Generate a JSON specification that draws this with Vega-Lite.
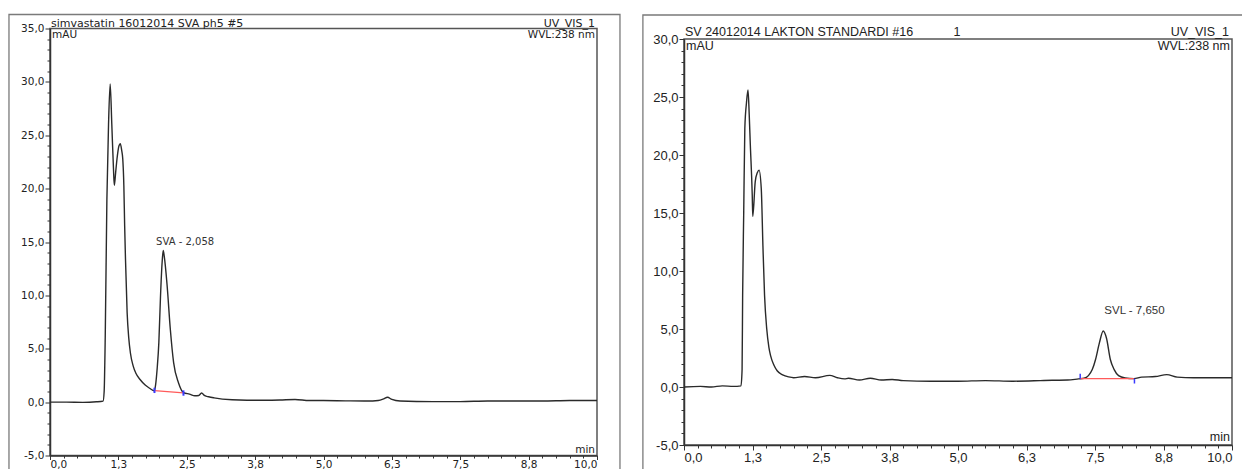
{
  "$schema": "https://vega.github.io/schema/vega-lite/v6.json",
  "background": "white",
  "padding": {"left": 7, "top": 12.5, "right": 0, "bottom": 0},
  "autosize": {"type": "pad"},
  "spacing": 87,
  "bounds": "flush",
  "center": true,
  "config": {
    "view": {"stroke": "#555555", "strokeWidth": 1.5},
    "axis": {"grid": false, "domainColor": "#333333", "tickColor": "#333333", "labelColor": "#222222", "title": null}
  },
  "datasets": {
    "traceL": [
      {"t": 0.0, "v": 0.0}, {"t": 0.3, "v": 0.0}, {"t": 0.6, "v": -0.02}, {"t": 0.85, "v": 0.03}, {"t": 0.97, "v": 0.1},
      {"t": 0.99, "v": 1.0}, {"t": 1.01, "v": 6.2}, {"t": 1.04, "v": 19.0}, {"t": 1.07, "v": 26.0}, {"t": 1.1, "v": 29.8},
      {"t": 1.13, "v": 26.0}, {"t": 1.16, "v": 21.9}, {"t": 1.176, "v": 20.3}, {"t": 1.2, "v": 21.5}, {"t": 1.225, "v": 22.8},
      {"t": 1.26, "v": 24.0}, {"t": 1.285, "v": 24.2}, {"t": 1.31, "v": 23.6}, {"t": 1.33, "v": 22.8}, {"t": 1.35, "v": 20.3},
      {"t": 1.365, "v": 16.5}, {"t": 1.38, "v": 13.4}, {"t": 1.41, "v": 8.4}, {"t": 1.44, "v": 6.0}, {"t": 1.47, "v": 4.6},
      {"t": 1.52, "v": 3.4}, {"t": 1.57, "v": 2.7}, {"t": 1.65, "v": 2.1}, {"t": 1.74, "v": 1.6}, {"t": 1.82, "v": 1.3},
      {"t": 1.91, "v": 1.07}, {"t": 1.93, "v": 1.6}, {"t": 1.96, "v": 3.2}, {"t": 1.99, "v": 5.6}, {"t": 2.02, "v": 9.9},
      {"t": 2.05, "v": 13.1}, {"t": 2.07, "v": 14.2}, {"t": 2.09, "v": 13.6}, {"t": 2.14, "v": 11.0}, {"t": 2.2, "v": 6.8},
      {"t": 2.26, "v": 3.7}, {"t": 2.35, "v": 1.8}, {"t": 2.44, "v": 0.9}, {"t": 2.55, "v": 0.75}, {"t": 2.65, "v": 0.6},
      {"t": 2.72, "v": 0.62}, {"t": 2.77, "v": 0.85}, {"t": 2.83, "v": 0.6}, {"t": 2.9, "v": 0.5}, {"t": 3.0, "v": 0.4},
      {"t": 3.33, "v": 0.22}, {"t": 3.6, "v": 0.18}, {"t": 3.94, "v": 0.18}, {"t": 4.2, "v": 0.2}, {"t": 4.48, "v": 0.25},
      {"t": 4.74, "v": 0.15}, {"t": 5.0, "v": 0.15}, {"t": 5.4, "v": 0.12}, {"t": 5.8, "v": 0.1}, {"t": 6.0, "v": 0.15},
      {"t": 6.1, "v": 0.3}, {"t": 6.17, "v": 0.45}, {"t": 6.25, "v": 0.25}, {"t": 6.4, "v": 0.1}, {"t": 7.0, "v": 0.05},
      {"t": 7.5, "v": 0.05}, {"t": 8.0, "v": 0.1}, {"t": 8.5, "v": 0.1}, {"t": 9.0, "v": 0.1}, {"t": 9.5, "v": 0.15},
      {"t": 10.0, "v": 0.15}
    ],
    "traceR": [
      {"t": 0.0, "v": 0.0}, {"t": 0.3, "v": 0.05}, {"t": 0.5, "v": 0.0}, {"t": 0.7, "v": 0.1}, {"t": 0.9, "v": 0.05},
      {"t": 1.04, "v": 0.1}, {"t": 1.06, "v": 1.5}, {"t": 1.07, "v": 7.9}, {"t": 1.09, "v": 15.1}, {"t": 1.11, "v": 22.3},
      {"t": 1.14, "v": 24.5}, {"t": 1.168, "v": 25.6}, {"t": 1.19, "v": 23.5}, {"t": 1.21, "v": 20.9}, {"t": 1.245, "v": 16.6},
      {"t": 1.255, "v": 14.7}, {"t": 1.3, "v": 17.7}, {"t": 1.34, "v": 18.5}, {"t": 1.37, "v": 18.7}, {"t": 1.41, "v": 17.1},
      {"t": 1.44, "v": 12.2}, {"t": 1.47, "v": 7.9}, {"t": 1.51, "v": 5.0}, {"t": 1.55, "v": 3.4}, {"t": 1.58, "v": 2.7},
      {"t": 1.64, "v": 1.9}, {"t": 1.7, "v": 1.4}, {"t": 1.8, "v": 1.05}, {"t": 1.91, "v": 0.87}, {"t": 2.0, "v": 0.8},
      {"t": 2.2, "v": 0.9}, {"t": 2.4, "v": 0.8}, {"t": 2.66, "v": 1.0}, {"t": 2.8, "v": 0.8}, {"t": 2.93, "v": 0.7},
      {"t": 3.0, "v": 0.75}, {"t": 3.2, "v": 0.6}, {"t": 3.4, "v": 0.75}, {"t": 3.6, "v": 0.6}, {"t": 3.8, "v": 0.65},
      {"t": 4.0, "v": 0.55}, {"t": 4.5, "v": 0.5}, {"t": 5.0, "v": 0.5}, {"t": 5.5, "v": 0.55}, {"t": 6.0, "v": 0.5},
      {"t": 6.5, "v": 0.55}, {"t": 6.72, "v": 0.58}, {"t": 7.0, "v": 0.6}, {"t": 7.2, "v": 0.7}, {"t": 7.3, "v": 0.75},
      {"t": 7.38, "v": 0.98}, {"t": 7.45, "v": 1.5}, {"t": 7.51, "v": 2.37}, {"t": 7.58, "v": 3.8}, {"t": 7.65, "v": 4.83},
      {"t": 7.71, "v": 4.2}, {"t": 7.78, "v": 2.37}, {"t": 7.85, "v": 1.5}, {"t": 7.93, "v": 0.98}, {"t": 8.05, "v": 0.78},
      {"t": 8.21, "v": 0.72}, {"t": 8.35, "v": 0.85}, {"t": 8.6, "v": 0.9}, {"t": 8.81, "v": 1.07}, {"t": 9.0, "v": 0.85},
      {"t": 9.3, "v": 0.8}, {"t": 9.6, "v": 0.8}, {"t": 10.0, "v": 0.8}
    ],
    "baseL": [{"t1": 1.91, "v1": 1.07, "t2": 2.44, "v2": 0.87}],
    "baseR": [{"t1": 7.23, "v1": 0.72, "t2": 8.21, "v2": 0.72}],
    "marksL": [{"t": 1.91, "a": 0.85, "b": 1.35}, {"t": 2.44, "a": 0.6, "b": 1.1}],
    "marksR": [{"t": 7.23, "a": 0.72, "b": 1.15}, {"t": 8.22, "a": 0.72, "b": 0.3}],
    "one": [{}]
  },
  "hconcat": [
    {
      "width": 547,
      "height": 427,
      "resolve": {"axis": {"x": "independent", "y": "independent"}},
      "layer": [
        {
          "data": {"name": "one"},
          "mark": {"type": "rect", "fill": null, "fillOpacity": 0, "stroke": "#7a7a7a", "strokeWidth": 1.3},
          "encoding": {
            "x": {"datum": -0.75, "type": "quantitative", "scale": {"domain": [0, 10], "nice": false, "zero": false}, "axis": null},
            "x2": {"datum": 10.42},
            "y": {"datum": 36.31, "type": "quantitative", "scale": {"domain": [-5, 35], "nice": false, "zero": false}, "axis": null},
            "y2": {"datum": -7.5}
          }
        },
        {
          "data": {"name": "traceL"},
          "mark": {"type": "point", "opacity": 0},
          "encoding": {
            "x": {"field": "t", "type": "quantitative", "scale": {"domain": [0, 10], "nice": false, "zero": false},
              "axis": {"orient": "bottom", "values": [0.25,0.5,0.75,1,1.5,1.75,2,2.25,2.75,3,3.25,3.5,4,4.25,4.5,4.75,5.25,5.5,5.75,6,6.5,6.75,7,7.25,7.75,8,8.25,8.5,9,9.25,9.5,9.75], "labels": false, "domain": false, "tickSize": 2.5, "tickWidth": 1}},
            "y": {"field": "v", "type": "quantitative", "scale": {"domain": [-5, 35], "nice": false, "zero": false},
              "axis": {"orient": "left", "values": [-4,-3,-2,-1,1,2,3,4,6,7,8,9,11,12,13,14,16,17,18,19,21,22,23,24,26,27,28,29,31,32,33,34], "labels": false, "domain": false, "tickSize": 3, "tickWidth": 1}}
          }
        },
        {
          "data": {"name": "traceL"},
          "mark": {"type": "line", "color": "#2a2a2a", "strokeWidth": 1.4, "interpolate": "monotone"},
          "encoding": {
            "x": {"field": "t", "type": "quantitative", "scale": {"domain": [0, 10], "nice": false, "zero": false},
              "axis": {"orient": "bottom", "values": [0,1.25,2.5,3.75,5,6.25,7.5,8.75,10], "labelExpr": "replace(format(datum.value, '.1f'), '.', ',')", "labelFont": "DejaVu Sans", "labelFontSize": 10.5, "tickSize": 4, "labelPadding": 0, "domainWidth": 1.5}},
            "y": {"field": "v", "type": "quantitative", "scale": {"domain": [-5, 35], "nice": false, "zero": false},
              "axis": {"orient": "left", "values": [-5,0,5,10,15,20,25,30,35], "labelExpr": "datum.value + ',0'", "labelFont": "DejaVu Sans", "labelFontSize": 10.5, "tickSize": 5, "labelPadding": 1, "domainWidth": 1.5}}
          }
        },
        {
          "data": {"name": "baseL"},
          "mark": {"type": "rule", "color": "#ff5a5a", "strokeWidth": 1.3},
          "encoding": {
            "x": {"field": "t1", "type": "quantitative", "scale": {"domain": [0, 10], "nice": false, "zero": false}, "axis": null},
            "x2": {"field": "t2"},
            "y": {"field": "v1", "type": "quantitative", "scale": {"domain": [-5, 35], "nice": false, "zero": false}, "axis": null},
            "y2": {"field": "v2"}
          }
        },
        {
          "data": {"name": "marksL"},
          "mark": {"type": "rule", "color": "#3a3aff", "strokeWidth": 2},
          "encoding": {
            "x": {"field": "t", "type": "quantitative", "scale": {"domain": [0, 10], "nice": false, "zero": false}, "axis": null},
            "y": {"field": "a", "type": "quantitative", "scale": {"domain": [-5, 35], "nice": false, "zero": false}, "axis": null},
            "y2": {"field": "b"}
          }
        },
        {
          "data": {"name": "one"},
          "mark": {"type": "text", "text": "simvastatin 16012014 SVA ph5 #5", "align": "left", "baseline": "alphabetic", "dx": 1, "dy": -2, "font": "DejaVu Sans", "fontSize": 11, "color": "#222222"},
          "encoding": {
            "x": {"datum": 0, "type": "quantitative", "scale": {"domain": [0, 10], "nice": false, "zero": false}, "axis": null},
            "y": {"datum": 35, "type": "quantitative", "scale": {"domain": [-5, 35], "nice": false, "zero": false}, "axis": null}
          }
        },
        {
          "data": {"name": "one"},
          "mark": {"type": "text", "text": "UV_VIS_1", "align": "right", "baseline": "alphabetic", "dx": -2, "dy": -2, "font": "DejaVu Sans", "fontSize": 11, "color": "#222222"},
          "encoding": {
            "x": {"datum": 10, "type": "quantitative", "scale": {"domain": [0, 10], "nice": false, "zero": false}, "axis": null},
            "y": {"datum": 35, "type": "quantitative", "scale": {"domain": [-5, 35], "nice": false, "zero": false}, "axis": null}
          }
        },
        {
          "data": {"name": "one"},
          "mark": {"type": "text", "text": "mAU", "align": "left", "baseline": "top", "dx": 2, "dy": 1, "font": "DejaVu Sans", "fontSize": 10.5, "color": "#222222"},
          "encoding": {
            "x": {"datum": 0, "type": "quantitative", "scale": {"domain": [0, 10], "nice": false, "zero": false}, "axis": null},
            "y": {"datum": 35, "type": "quantitative", "scale": {"domain": [-5, 35], "nice": false, "zero": false}, "axis": null}
          }
        },
        {
          "data": {"name": "one"},
          "mark": {"type": "text", "text": "WVL:238 nm", "align": "right", "baseline": "top", "dx": -2, "dy": 1, "font": "DejaVu Sans", "fontSize": 10.5, "color": "#222222"},
          "encoding": {
            "x": {"datum": 10, "type": "quantitative", "scale": {"domain": [0, 10], "nice": false, "zero": false}, "axis": null},
            "y": {"datum": 35, "type": "quantitative", "scale": {"domain": [-5, 35], "nice": false, "zero": false}, "axis": null}
          }
        },
        {
          "data": {"name": "one"},
          "mark": {"type": "text", "text": "min", "align": "right", "baseline": "bottom", "dx": -2, "dy": -1, "font": "DejaVu Sans", "fontSize": 10.5, "color": "#222222"},
          "encoding": {
            "x": {"datum": 10, "type": "quantitative", "scale": {"domain": [0, 10], "nice": false, "zero": false}, "axis": null},
            "y": {"datum": -5, "type": "quantitative", "scale": {"domain": [-5, 35], "nice": false, "zero": false}, "axis": null}
          }
        },
        {
          "data": {"name": "one"},
          "mark": {"type": "text", "text": "SVA - 2,058", "align": "left", "baseline": "middle", "font": "DejaVu Sans", "fontSize": 10, "color": "#333333"},
          "encoding": {
            "x": {"datum": 1.94, "type": "quantitative", "scale": {"domain": [0, 10], "nice": false, "zero": false}, "axis": null},
            "y": {"datum": 15.0, "type": "quantitative", "scale": {"domain": [-5, 35], "nice": false, "zero": false}, "axis": null}
          }
        }
      ]
    },
    {
      "width": 548,
      "height": 406,
      "resolve": {"axis": {"x": "independent", "y": "independent"}},
      "layer": [
        {
          "data": {"name": "one"},
          "mark": {"type": "rect", "fill": null, "fillOpacity": 0, "stroke": "#7a7a7a", "strokeWidth": 1.3},
          "encoding": {
            "x": {"datum": -0.75, "type": "quantitative", "scale": {"domain": [0, 10], "nice": false, "zero": false}, "axis": null},
            "x2": {"datum": 10.5},
            "y": {"datum": 32.07, "type": "quantitative", "scale": {"domain": [-5, 30], "nice": false, "zero": false}, "axis": null},
            "y2": {"datum": -7.5}
          }
        },
        {
          "data": {"name": "traceR"},
          "mark": {"type": "point", "opacity": 0},
          "encoding": {
            "x": {"field": "t", "type": "quantitative", "scale": {"domain": [0, 10], "nice": false, "zero": false},
              "axis": {"orient": "bottom", "values": [0.25,0.5,0.75,1,1.5,1.75,2,2.25,2.75,3,3.25,3.5,4,4.25,4.5,4.75,5.25,5.5,5.75,6,6.5,6.75,7,7.25,7.75,8,8.25,8.5,9,9.25,9.5,9.75], "labels": false, "domain": false, "tickSize": 3, "tickWidth": 1}},
            "y": {"field": "v", "type": "quantitative", "scale": {"domain": [-5, 30], "nice": false, "zero": false},
              "axis": {"orient": "left", "values": [-4,-3,-2,-1,1,2,3,4,6,7,8,9,11,12,13,14,16,17,18,19,21,22,23,24,26,27,28,29], "labels": false, "domain": false, "tickSize": 3, "tickWidth": 1}}
          }
        },
        {
          "data": {"name": "traceR"},
          "mark": {"type": "line", "color": "#2a2a2a", "strokeWidth": 1.4, "interpolate": "monotone"},
          "encoding": {
            "x": {"field": "t", "type": "quantitative", "scale": {"domain": [0, 10], "nice": false, "zero": false},
              "axis": {"orient": "bottom", "values": [0,1.25,2.5,3.75,5,6.25,7.5,8.75,10], "labelExpr": "replace(format(datum.value, '.1f'), '.', ',')", "labelFont": "Liberation Sans", "labelFontSize": 13, "tickSize": 5, "labelPadding": 1, "domainWidth": 1.5}},
            "y": {"field": "v", "type": "quantitative", "scale": {"domain": [-5, 30], "nice": false, "zero": false},
              "axis": {"orient": "left", "values": [-5,0,5,10,15,20,25,30], "labelExpr": "datum.value + ',0'", "labelFont": "Liberation Sans", "labelFontSize": 13, "tickSize": 5, "labelPadding": 1, "domainWidth": 1.5}}
          }
        },
        {
          "data": {"name": "baseR"},
          "mark": {"type": "rule", "color": "#ff5a5a", "strokeWidth": 1.3},
          "encoding": {
            "x": {"field": "t1", "type": "quantitative", "scale": {"domain": [0, 10], "nice": false, "zero": false}, "axis": null},
            "x2": {"field": "t2"},
            "y": {"field": "v1", "type": "quantitative", "scale": {"domain": [-5, 30], "nice": false, "zero": false}, "axis": null},
            "y2": {"field": "v2"}
          }
        },
        {
          "data": {"name": "marksR"},
          "mark": {"type": "rule", "color": "#3a3aff", "strokeWidth": 1.5},
          "encoding": {
            "x": {"field": "t", "type": "quantitative", "scale": {"domain": [0, 10], "nice": false, "zero": false}, "axis": null},
            "y": {"field": "a", "type": "quantitative", "scale": {"domain": [-5, 30], "nice": false, "zero": false}, "axis": null},
            "y2": {"field": "b"}
          }
        },
        {
          "data": {"name": "one"},
          "mark": {"type": "text", "text": "SV 24012014 LAKTON STANDARDI #16", "align": "left", "baseline": "alphabetic", "dx": 1, "dy": -3, "font": "Liberation Sans", "fontSize": 12.5, "color": "#222222"},
          "encoding": {
            "x": {"datum": 0, "type": "quantitative", "scale": {"domain": [0, 10], "nice": false, "zero": false}, "axis": null},
            "y": {"datum": 30, "type": "quantitative", "scale": {"domain": [-5, 30], "nice": false, "zero": false}, "axis": null}
          }
        },
        {
          "data": {"name": "one"},
          "mark": {"type": "text", "text": "1", "align": "center", "baseline": "alphabetic", "dy": -3, "font": "Liberation Sans", "fontSize": 12.5, "color": "#222222"},
          "encoding": {
            "x": {"datum": 4.98, "type": "quantitative", "scale": {"domain": [0, 10], "nice": false, "zero": false}, "axis": null},
            "y": {"datum": 30, "type": "quantitative", "scale": {"domain": [-5, 30], "nice": false, "zero": false}, "axis": null}
          }
        },
        {
          "data": {"name": "one"},
          "mark": {"type": "text", "text": "UV_VIS_1", "align": "right", "baseline": "alphabetic", "dx": -3, "dy": -3, "font": "Liberation Sans", "fontSize": 12.5, "color": "#222222"},
          "encoding": {
            "x": {"datum": 10, "type": "quantitative", "scale": {"domain": [0, 10], "nice": false, "zero": false}, "axis": null},
            "y": {"datum": 30, "type": "quantitative", "scale": {"domain": [-5, 30], "nice": false, "zero": false}, "axis": null}
          }
        },
        {
          "data": {"name": "one"},
          "mark": {"type": "text", "text": "mAU", "align": "left", "baseline": "top", "dx": 2, "dy": 1, "font": "Liberation Sans", "fontSize": 12.5, "color": "#222222"},
          "encoding": {
            "x": {"datum": 0, "type": "quantitative", "scale": {"domain": [0, 10], "nice": false, "zero": false}, "axis": null},
            "y": {"datum": 30, "type": "quantitative", "scale": {"domain": [-5, 30], "nice": false, "zero": false}, "axis": null}
          }
        },
        {
          "data": {"name": "one"},
          "mark": {"type": "text", "text": "WVL:238 nm", "align": "right", "baseline": "top", "dx": -2, "dy": 1, "font": "Liberation Sans", "fontSize": 12.5, "color": "#222222"},
          "encoding": {
            "x": {"datum": 10, "type": "quantitative", "scale": {"domain": [0, 10], "nice": false, "zero": false}, "axis": null},
            "y": {"datum": 30, "type": "quantitative", "scale": {"domain": [-5, 30], "nice": false, "zero": false}, "axis": null}
          }
        },
        {
          "data": {"name": "one"},
          "mark": {"type": "text", "text": "min", "align": "right", "baseline": "bottom", "dx": -2, "dy": -1, "font": "Liberation Sans", "fontSize": 12.5, "color": "#222222"},
          "encoding": {
            "x": {"datum": 10, "type": "quantitative", "scale": {"domain": [0, 10], "nice": false, "zero": false}, "axis": null},
            "y": {"datum": -5, "type": "quantitative", "scale": {"domain": [-5, 30], "nice": false, "zero": false}, "axis": null}
          }
        },
        {
          "data": {"name": "one"},
          "mark": {"type": "text", "text": "SVL - 7,650", "align": "left", "baseline": "middle", "font": "Liberation Sans", "fontSize": 11.5, "color": "#333333"},
          "encoding": {
            "x": {"datum": 7.67, "type": "quantitative", "scale": {"domain": [0, 10], "nice": false, "zero": false}, "axis": null},
            "y": {"datum": 6.56, "type": "quantitative", "scale": {"domain": [-5, 30], "nice": false, "zero": false}, "axis": null}
          }
        }
      ]
    }
  ]
}
